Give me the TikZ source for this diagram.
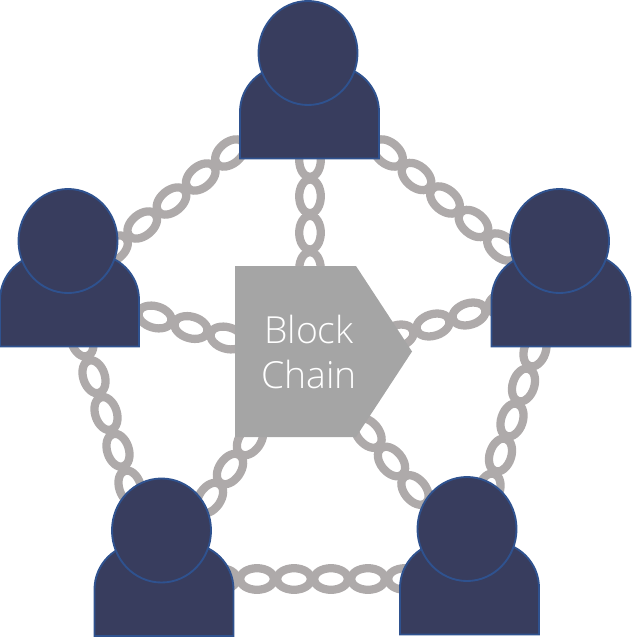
\documentclass[tikz,border=0pt]{standalone}
\usepackage{fontspec}
\setmainfont{Open Sans Light}
\usetikzlibrary{calc,shapes.geometric}
\definecolor{linkgrey}{HTML}{AEAAAA}
\definecolor{boxgrey}{HTML}{A5A5A5}
\definecolor{personfill}{HTML}{383D5E}
\definecolor{personedge}{HTML}{2F528F}
\tikzset{
  chainlink/.style={draw=linkgrey,line width=6.2pt},
  personbody/.style={fill=personfill,draw=personedge,line width=1.4pt},
  personhead/.style={ellipse,fill=personfill,draw=personedge,line width=1.4pt,inner sep=0pt,minimum width=74.25pt,minimum height=78pt},
  blockshape/.style={fill=boxgrey,draw=none},
  blocktext/.style={text=white,align=center,font=\fontsize{28pt}{33.75pt}\selectfont,inner sep=0pt}
}
% chain of #3 links from coordinate #1 to coordinate #2
\newcommand{\linkchain}[3]{%
  \path let \p1=($(#2)-(#1)$), \n1={atan2(\y1,\x1)} in
    \pgfextra{\xdef\linkang{\n1}};
  \foreach \k in {1,...,#3}{%
    \pgfmathsetmacro{\f}{(\k-1)/(#3-1)}
    \draw[chainlink,shift={($(#1)!\f!(#2)$)},rotate=\linkang] (0,0) ellipse [x radius=12.75pt,y radius=8.1pt];
  }%
}
% person: #1 name, #2 head centre, #3 body centre x relative to head
\newcommand{\person}[3]{%
  \draw[personbody,shift={(#2)},xshift=#3*0.75pt] (-68,105.5) -- (-68,59)
     arc[start angle=180,end angle=270,radius=46] -- (25,13)
     arc[start angle=270,end angle=360,radius=46] -- (71,105.5) -- cycle;
  \node[personhead] (#1) at (#2) {};
}
\begin{document}
\begin{tikzpicture}[x=0.75pt,y=-0.75pt]
\useasboundingbox (0,0) rectangle (632,638);
\coordinate (tla) at (230,153); \coordinate (tlb) at (113,249);
\coordinate (tra) at (388,153); \coordinate (trb) at (502,247);
\coordinate (tca) at (310,160); \coordinate (tcb) at (310,269);
\coordinate (lca) at (155,317); \coordinate (lcb) at (227,338);
\coordinate (rca) at (505,303); \coordinate (rcb) at (397,336);
\coordinate (lba) at (82,340);  \coordinate (lbb) at (130,487);
\coordinate (rba) at (535,350); \coordinate (rbb) at (489,490);
\coordinate (cla) at (250,440); \coordinate (clb) at (210,498);
\coordinate (cra) at (368,433); \coordinate (crb) at (415,490);
\coordinate (bba) at (220,579); \coordinate (bbb) at (405,579);
\linkchain{tla}{tlb}{5}
\linkchain{tra}{trb}{5}
\linkchain{tca}{tcb}{4}
\linkchain{lca}{lcb}{3}
\linkchain{rca}{rcb}{4}
\linkchain{lba}{lbb}{5}
\linkchain{rba}{rbb}{5}
\linkchain{cla}{clb}{3}
\linkchain{cra}{crb}{3}
\linkchain{bba}{bbb}{6}
\fill[blockshape] (235,266) -- (356,266) -- (412,351.5) -- (356,437) -- (235,437) -- cycle;
\node[blocktext] (block) at (309,352) {Block\\Chain};
\person{ptop}{308,53}{0}
\person{pleft}{68,241}{0}
\person{pright}{559.5,241}{0}
\person{pbl}{161.5,530.5}{1}
\person{pbr}{467,529}{1}
\end{tikzpicture}
\end{document}
